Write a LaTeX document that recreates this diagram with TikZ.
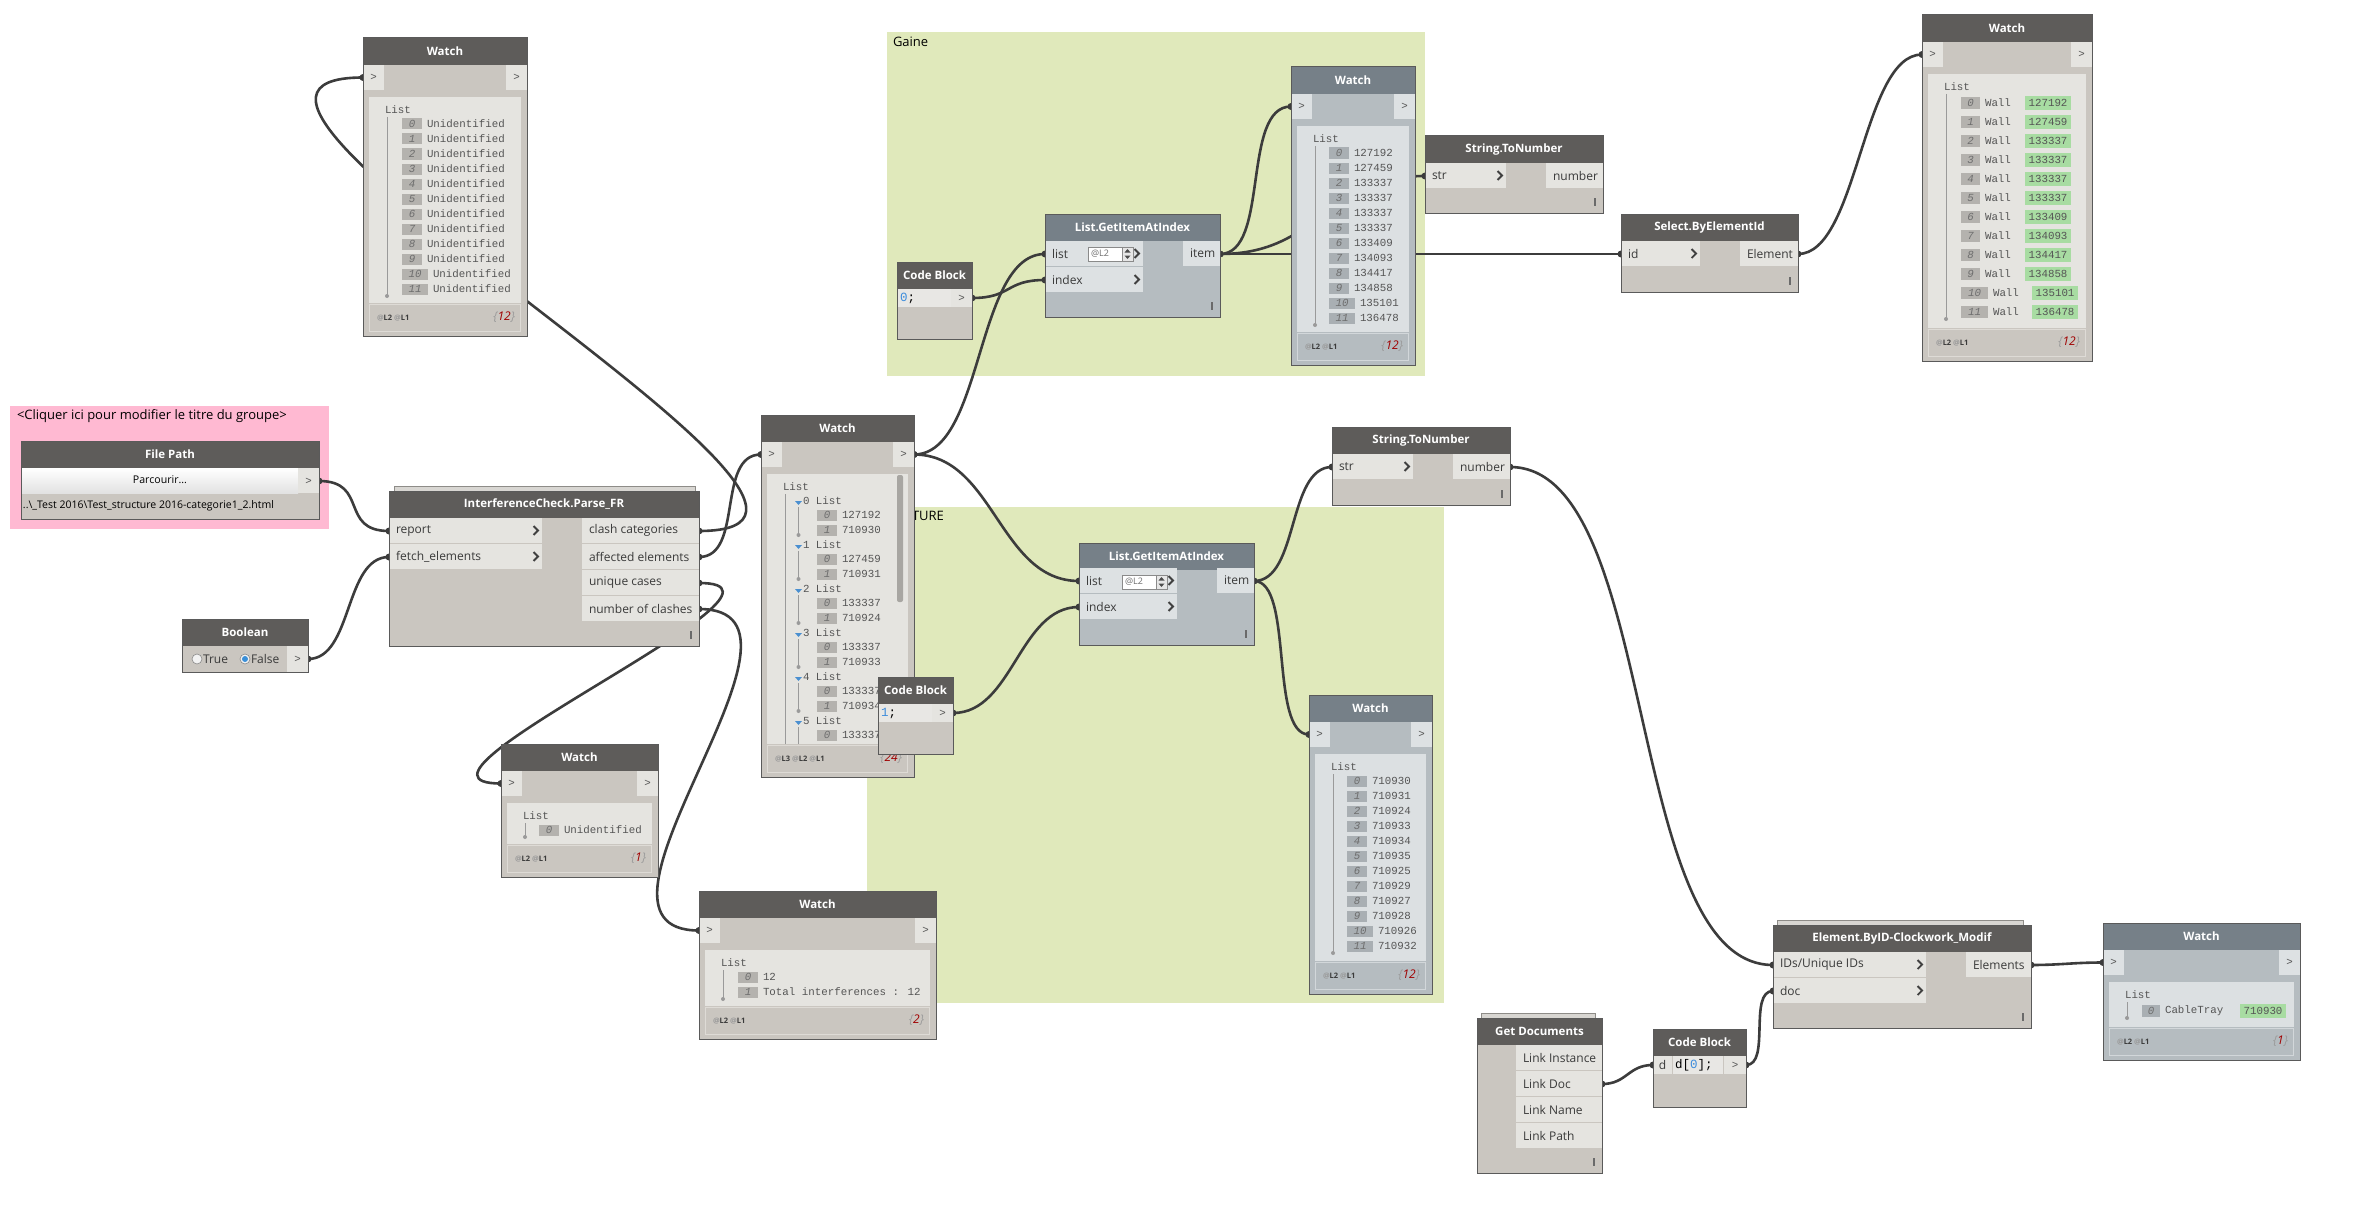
\documentclass[tikz,border=0pt]{standalone}
\usepackage{fontspec}
\setmainfont{Open Sans}
\newfontfamily\monofam{Liberation Mono}
\usetikzlibrary{calc}
\definecolor{ttlD}{HTML}{5E5C5A}
\definecolor{bodyD}{HTML}{CAC6C0}
\definecolor{portD}{HTML}{E5E4E0}
\definecolor{listD}{HTML}{E5E4E0}
\definecolor{idxD}{HTML}{B4B2AE}
\definecolor{footD}{HTML}{DEDBD6}
\definecolor{ttlB}{HTML}{768088}
\definecolor{bodyB}{HTML}{B5BCC0}
\definecolor{portB}{HTML}{DDE1E3}
\definecolor{listB}{HTML}{DCE0E2}
\definecolor{idxB}{HTML}{A9AFB3}
\definecolor{footB}{HTML}{D2D7DA}
\definecolor{edgec}{HTML}{5A5A5A}
\definecolor{wirec}{HTML}{3C3C3C}
\definecolor{grpG}{HTML}{E0E9BB}
\definecolor{grpP}{HTML}{FFB9D2}
\definecolor{txtc}{HTML}{3A3A3A}
\definecolor{monoc}{HTML}{555555}
\definecolor{idxtc}{HTML}{6E6E6E}
\definecolor{grn}{HTML}{A8DCA2}
\definecolor{cbblue}{HTML}{3C8CDC}
\definecolor{redn}{HTML}{A00000}
\definecolor{atc}{HTML}{9A9A9A}
\definecolor{linec}{HTML}{9A9A9A}
\definecolor{chevc}{HTML}{404040}
\definecolor{imc}{HTML}{6A6A6A}
\definecolor{stackc}{HTML}{D8D6D2}
\definecolor{stackd}{HTML}{8E8C88}
\definecolor{codec}{HTML}{E8E7E4}
\definecolor{btnbot}{HTML}{E2E2E2}
\definecolor{spind}{HTML}{8A8A8A}
\definecolor{spinb}{HTML}{E6E6E6}
\definecolor{tric}{HTML}{4A8FD0}
\definecolor{scrollc}{HTML}{A8A6A2}
\definecolor{radiod}{HTML}{8A8A8A}
\definecolor{radiob}{HTML}{3A8FD8}

\newcommand{\titlef}{\fontsize{11.5}{12}\selectfont\bfseries}
\newcommand{\portf}{\fontsize{12}{13}\selectfont}
\newcommand{\monof}{\monofam\fontsize{10.8}{12}\selectfont}
\newcommand{\monoi}{\monofam\itshape\fontsize{10.8}{12}\selectfont}
\newcommand{\codef}{\monofam\fontsize{12.5}{13}\selectfont}
\newcommand{\footf}{\fontsize{7.5}{8}\selectfont\bfseries}
\newcommand{\cntf}{\fontsize{12}{13}\selectfont\itshape}
\newcommand{\grpf}{\fontsize{13}{14}\selectfont}
\newcommand{\btnf}{\fontsize{10.6}{12}\selectfont}
\newcommand{\pathf}{\fontsize{10.5}{12}\selectfont}
\newcommand{\spinf}{\fontsize{9}{10}\selectfont}

\newcounter{nn}
\newcommand{\dtx}[3]{\stepcounter{nn}\node[inner sep=0pt,outer sep=0pt,#1] (t\arabic{nn}) at (#2) {#3};}
\newcommand{\lvl}[1]{\textcolor{atc}{@}\textcolor{txtc}{#1}}
\newcommand{\wcount}[1]{\textcolor{atc}{\{}\textcolor{redn}{#1}\textcolor{atc}{\}}}

% name, x, y, w, h, title, scheme
\newcommand{\dyn}[7]{%
  \node[fill=body#7, inner sep=0pt, outer sep=0pt, minimum width=#4pt, minimum height=#5pt, anchor=north west] (#1) at (#2,#3) {};
  \node[fill=ttl#7, inner sep=0pt, outer sep=0pt, minimum width=#4pt, minimum height=27pt, anchor=north west, text=white, font=\titlef] (#1-t) at (#2,#3) {#6};
}
\newcommand{\nborder}[1]{\draw[edgec, line width=1pt] (#1.north west) rectangle (#1.south east);}
\newcommand{\chev}[2]{\draw[chevc, line width=1.8pt, line join=miter] (#1-2.5,#2-4.5) -- (#1+2,#2) -- (#1-2.5,#2+4.5);}
\newcommand{\imark}[2]{\draw[imc, line width=1.2pt] (#1-8,#2-15) -- (#1-8,#2-7);}
% x, y, w, h, label, scheme
\newcommand{\portin}[6]{%
  \fill[port#6] (#1,#2) rectangle ++(#3,#4-1);
  \dtx{anchor=west,font=\portf,text=txtc}{#1+7,#2+#4/2-0.5}{#5}
  \chev{#1+#3-6}{#2+#4/2-0.5}
}
\newcommand{\portout}[6]{%
  \fill[port#6] (#1,#2) rectangle ++(#3,#4-1);
  \dtx{anchor=west,font=\portf,text=txtc}{#1+7,#2+#4/2-0.5}{#5}
}
\newcommand{\lvspin}[2]{%
  \filldraw[fill=white, draw=spind, line width=0.6pt] (#1,#2) rectangle ++(45,14);
  \dtx{anchor=west,font=\spinf,text=idxtc}{#1+3,#2+7}{@L2}
  \filldraw[fill=spinb, draw=spind, line width=0.6pt] (#1+34,#2) rectangle ++(11,14);
  \fill[black!70] (#1+36.5,#2+5.5) -- (#1+42.5,#2+5.5) -- (#1+39.5,#2+2) -- cycle;
  \fill[black!70] (#1+36.5,#2+8.5) -- (#1+42.5,#2+8.5) -- (#1+39.5,#2+12) -- cycle;
}
% name, x, y, w, h, scheme, levels, count
\newcommand{\watch}[8]{%
  \dyn{#1}{#2}{#3}{#4}{#5}{Watch}{#6}
  \fill[port#6] (#2,#3+27) rectangle (#2+21,#3+52);
  \fill[port#6] (#2+#4-21,#3+27) rectangle (#2+#4,#3+52);
  \dtx{font=\monof,text=monoc}{#2+10.5,#3+39.5}{>}
  \dtx{font=\monof,text=monoc}{#2+#4-10.5,#3+39.5}{>}
  \fill[list#6] (#2+6,#3+59) rectangle (#2+#4-6,#3+#5-33);
  \draw[foot#6, line width=1pt] (#2+6.5,#3+#5-31.5) rectangle (#2+#4-6.5,#3+#5-4.5);
  \dtx{anchor=west,font=\footf}{#2+14,#3+#5-18}{#7}
  \dtx{anchor=east,font=\cntf}{#2+#4-12,#3+#5-19}{#8}
}
% node x, node y, last item y
\newcommand{\listhead}[3]{%
  \dtx{anchor=west,font=\monof,text=monoc}{#1+22,#2+72}{List}
  \draw[linec, line width=0.8pt] (#1+24,#2+79) -- (#1+24,#3+7);
  \fill[linec] (#1+24,#3+7) circle (2pt);
}
% x, y, boxw, idx, text, scheme
\newcommand{\litem}[6]{%
  \fill[idx#6] (#1,#2-5.5) rectangle ++(#3,11);
  \dtx{font=\monoi,text=idxtc}{#1+#3/2,#2}{#4}
  \dtx{anchor=west,font=\monof,text=monoc}{#1+#3+5,#2}{#5}
}
% x, y, boxw, idx, label, greenx, value, scheme
\newcommand{\gitem}[8]{%
  \fill[idx#8] (#1,#2-6) rectangle ++(#3,12);
  \dtx{font=\monoi,text=idxtc}{#1+#3/2,#2}{#4}
  \dtx{anchor=west,font=\monof,text=monoc}{#1+#3+5,#2}{#5}
  \fill[grn] (#6,#2-7) rectangle ++(46,14);
  \dtx{font=\monof,text=monoc}{#6+23,#2}{#7}
}
\tikzset{wire/.style={draw=wirec, line width=2.6pt}}
\newcommand{\wire}[3]{%
  \draw[wire] (#1) .. controls +(#2,0) and +(-#2,0) .. (#3);
  \fill[wirec] (#1) circle (3.5pt);
  \fill[wirec] (#3) circle (3.5pt);
}

\begin{document}
\begin{tikzpicture}[x=1pt,y=-1pt]
\useasboundingbox (0,0) rectangle (2358,1212);
\fill[white] (0,0) rectangle (2358,1212);

% ---------- groups
\fill[grpP] (10,406) rectangle (329,529);
\dtx{anchor=west,font=\grpf}{17,416}{<Cliquer ici pour modifier le titre du groupe>}
\fill[grpG] (887,32) rectangle (1425,376);
\dtx{anchor=west,font=\grpf}{893,42}{Gaine}
\fill[grpG] (867,507) rectangle (1444,1003);
\dtx{anchor=west,font=\grpf}{872,516}{STRUCTURE}

% ---------- port coordinates
\coordinate (fp-out) at (319,481);
\coordinate (bo-out) at (308,659);
\coordinate (ic-report) at (389,531);
\coordinate (ic-fetch) at (389,557);
\coordinate (ic-o1) at (699,531);
\coordinate (ic-o2) at (699,557);
\coordinate (ic-o3) at (699,583);
\coordinate (ic-o4) at (699,609);
\coordinate (w1-in) at (363,77.5);
\coordinate (w2-in) at (761,454.5);
\coordinate (w2-out) at (914,454.5);
\coordinate (w3-in) at (1291,106.5);
\coordinate (w4-in) at (1922,54.5);
\coordinate (w5-in) at (1309,734.5);
\coordinate (w6-in) at (501,783.5);
\coordinate (w7-in) at (699,930.5);
\coordinate (w8-in) at (2103,962.5);
\coordinate (cb1-out) at (972,298);
\coordinate (cb2-out) at (953,713);
\coordinate (cb3-in) at (1653,1065);
\coordinate (cb3-out) at (1746,1065);
\coordinate (lg1-list) at (1045,254);
\coordinate (lg1-index) at (1045,280);
\coordinate (lg1-item) at (1220,254);
\coordinate (lg2-list) at (1079,581);
\coordinate (lg2-index) at (1079,607);
\coordinate (lg2-item) at (1254,581);
\coordinate (st1-str) at (1425,176);
\coordinate (st2-str) at (1332,467);
\coordinate (st2-num) at (1510,467);
\coordinate (se-id) at (1621,254);
\coordinate (se-el) at (1798,254);
\coordinate (gd-doc) at (1602,1084);
\coordinate (eb-ids) at (1773,965);
\coordinate (eb-doc) at (1773,991);
\coordinate (eb-el) at (2031,965);

% ---------- wires
\wire{fp-out}{50}{ic-report}
\wire{bo-out}{45}{ic-fetch}
\wire{ic-o1}{250}{w1-in}
\wire{ic-o2}{45}{w2-in}
\wire{ic-o3}{131}{w6-in}
\wire{ic-o4}{145}{w7-in}
\wire{w2-out}{70}{lg1-list}
\wire{w2-out}{80}{lg2-list}
\wire{cb1-out}{40}{lg1-index}
\wire{cb2-out}{60}{lg2-index}
\wire{lg1-item}{50}{w3-in}
\wire{lg1-item}{100}{st1-str}
\wire{lg1-item}{60}{se-id}
\wire{se-el}{60}{w4-in}
\wire{lg2-item}{45}{st2-str}
\wire{lg2-item}{40}{w5-in}
\wire{st2-num}{150}{eb-ids}
\wire{gd-doc}{25}{cb3-in}
\wire{cb3-out}{25}{eb-doc}
\wire{eb-el}{30}{w8-in}

% ---------- W1 watch
\watch{w1}{363}{38}{164}{298}{D}{\lvl{L2} \lvl{L1}}{\wcount{12}}
\listhead{363}{38}{289}
\foreach \i in {0,...,9} {\litem{402}{124+15*\i}{20}{\i}{Unidentified}{D}}
\foreach \i in {10,11} {\litem{402}{124+15*\i}{26}{\i}{Unidentified}{D}}
\nborder{w1}

% ---------- File Path
\dyn{fp}{21}{441}{298}{78}{File Path}{D}
\shade[top color=white, bottom color=btnbot] (21,468) rectangle (298,493);
\dtx{font=\btnf,text=black}{160,480}{Parcourir...}
\fill[portD] (298,468) rectangle (319,493);
\dtx{font=\monof,text=monoc}{308.5,481}{>}
\dtx{anchor=west,font=\pathf,text=black}{23,506}{..\textbackslash\_Test 2016\textbackslash Test\_structure 2016-categorie1\_2.html}
\nborder{fp}

% ---------- Boolean
\dyn{bo}{182}{619}{126}{53}{Boolean}{D}
\fill[portD] (287,646) rectangle (308,672);
\dtx{font=\monof,text=monoc}{297.5,659}{>}
\filldraw[fill=white!90!gray, draw=radiod, line width=0.6pt] (197,659) circle (5pt);
\dtx{anchor=west,font=\portf,text=txtc}{203,659}{True}
\filldraw[fill=white!90!gray, draw=radiod, line width=0.6pt] (245,659) circle (5pt);
\fill[radiob] (245,659) circle (3pt);
\dtx{anchor=west,font=\portf,text=txtc}{251,659}{False}
\nborder{bo}

% ---------- InterferenceCheck
\filldraw[fill=stackc, draw=stackd, line width=0.8pt] (394,486) rectangle (695,491);
\dyn{ic}{389}{491}{310}{155}{InterferenceCheck.Parse\_FR}{D}
\portin{389}{518}{153}{26}{report}{D}
\portin{389}{544}{153}{26}{fetch\_elements}{D}
\portout{582}{518}{117}{26}{clash categories}{D}
\portout{582}{544}{117}{26}{affected elements}{D}
\portout{582}{570}{117}{26}{unique cases}{D}
\portout{582}{596}{117}{26}{number of clashes}{D}
\imark{699}{646}
\nborder{ic}

% ---------- W2 watch
\watch{w2}{761}{415}{153}{362}{D}{\lvl{L3} \lvl{L2} \lvl{L1}}{\wcount{24}}
\begin{scope}
\clip (767,473) rectangle (908,743);
\dtx{anchor=west,font=\monof,text=monoc}{783,487}{List}
\draw[linec, line width=0.8pt] (785,494) -- (785,760);
\foreach \i/\a/\b in {0/127192/710930,1/127459/710931,2/133337/710924,3/133337/710933,4/133337/710934,5/133337/710935} {
  \fill[tric] (795,501+44*\i) -- (802,501+44*\i) -- (798.5,505+44*\i) -- cycle;
  \dtx{anchor=west,font=\monof,text=monoc}{803,501+44*\i}{\i{} List}
  \draw[linec, line width=0.8pt] (798.5,507+44*\i) -- (798.5,535+44*\i);
  \fill[linec] (798.5,535+44*\i) circle (2pt);
  \litem{817}{515+44*\i}{20}{0}{\a}{D}
  \litem{817}{530+44*\i}{20}{1}{\b}{D}
}
\end{scope}
\fill[scrollc, rounded corners=2pt] (897,475) rectangle (903,602);
\nborder{w2}

% ---------- W6, W7 watches
\watch{w6}{501}{744}{157}{133}{D}{\lvl{L2} \lvl{L1}}{\wcount{1}}
\listhead{501}{744}{830}
\litem{539}{830}{20}{0}{Unidentified}{D}
\nborder{w6}
\watch{w7}{699}{891}{237}{148}{D}{\lvl{L2} \lvl{L1}}{\wcount{2}}
\listhead{699}{891}{992}
\litem{738}{977}{20}{0}{12}{D}
\litem{738}{992}{20}{1}{Total interferences : 12}{D}
\nborder{w7}

% ---------- Code blocks
\dyn{cb1}{897}{262}{75}{77}{Code Block}{D}
\fill[codec] (897,289) rectangle (951,307);
\fill[portD] (951,289) rectangle (972,307);
\dtx{anchor=west,font=\codef,text=black}{900,298}{\textcolor{cbblue}{0};}
\dtx{font=\monof,text=monoc}{961.5,298}{>}
\nborder{cb1}

\dyn{cb2}{878}{677}{75}{77}{Code Block}{D}
\fill[codec] (878,704) rectangle (932,722);
\fill[portD] (932,704) rectangle (953,722);
\dtx{anchor=west,font=\codef,text=black}{881,713}{\textcolor{cbblue}{1};}
\dtx{font=\monof,text=monoc}{942.5,713}{>}
\nborder{cb2}

\dyn{cb3}{1653}{1029}{93}{78}{Code Block}{D}
\fill[portD] (1653,1056) rectangle (1672,1074);
\fill[codec] (1673,1056) rectangle (1723,1074);
\fill[portD] (1724,1056) rectangle (1746,1074);
\dtx{font=\portf,text=txtc}{1662.5,1065}{d}
\dtx{anchor=west,font=\codef,text=black}{1675,1065}{d[\textcolor{cbblue}{0}];}
\dtx{font=\monof,text=monoc}{1735,1065}{>}
\nborder{cb3}

% ---------- List.GetItemAtIndex
\dyn{lg1}{1045}{214}{175}{103}{List.GetItemAtIndex}{B}
\portin{1045}{241}{98}{26}{list}{B}
\lvspin{1088}{247}
\portin{1045}{267}{98}{26}{index}{B}
\portout{1183}{241}{37}{26}{item}{B}
\imark{1220}{317}
\nborder{lg1}

\dyn{lg2}{1079}{543}{175}{102}{List.GetItemAtIndex}{B}
\portin{1079}{568}{98}{26}{list}{B}
\lvspin{1122}{575}
\portin{1079}{594}{98}{26}{index}{B}
\portout{1217}{568}{37}{26}{item}{B}
\imark{1254}{645}
\nborder{lg2}

% ---------- W3 watch
\watch{w3}{1291}{67}{124}{298}{B}{\lvl{L2} \lvl{L1}}{\wcount{12}}
\listhead{1291}{67}{318}
\foreach \i/\v in {0/127192,1/127459,2/133337,3/133337,4/133337,5/133337,6/133409,7/134093,8/134417,9/134858} {\litem{1329}{153+15*\i}{20}{\i}{\v}{B}}
\foreach \i/\v in {10/135101,11/136478} {\litem{1329}{153+15*\i}{26}{\i}{\v}{B}}
\nborder{w3}

% ---------- String.ToNumber
\dyn{st1}{1425}{136}{178}{77}{String.ToNumber}{D}
\portin{1425}{163}{81}{26}{str}{D}
\portout{1546}{163}{57}{26}{number}{D}
\imark{1603}{213}
\nborder{st1}

\dyn{st2}{1332}{427}{178}{78}{String.ToNumber}{D}
\portin{1332}{454}{81}{26}{str}{D}
\portout{1453}{454}{57}{26}{number}{D}
\imark{1510}{505}
\nborder{st2}

% ---------- Select.ByElementId
\dyn{se}{1621}{214}{177}{78}{Select.ByElementId}{D}
\portin{1621}{241}{79}{26}{id}{D}
\portout{1740}{241}{58}{26}{Element}{D}
\imark{1798}{292}
\nborder{se}

% ---------- W4 watch
\watch{w4}{1922}{15}{170}{346}{D}{\lvl{L2} \lvl{L1}}{\wcount{12}}
\listhead{1922}{15}{312}
\foreach \i/\v in {0/127192,1/127459,2/133337,3/133337,4/133337,5/133337,6/133409,7/134093,8/134417,9/134858} {\gitem{1961}{103+19*\i}{19}{\i}{Wall}{2025}{\v}{D}}
\foreach \i/\v in {10/135101,11/136478} {\gitem{1961}{103+19*\i}{27}{\i}{Wall}{2032}{\v}{D}}
\nborder{w4}

% ---------- W5 watch
\watch{w5}{1309}{695}{123}{299}{B}{\lvl{L2} \lvl{L1}}{\wcount{12}}
\listhead{1309}{695}{946}
\foreach \i/\v in {0/710930,1/710931,2/710924,3/710933,4/710934,5/710935,6/710925,7/710929,8/710927,9/710928} {\litem{1347}{781+15*\i}{20}{\i}{\v}{B}}
\foreach \i/\v in {10/710926,11/710932} {\litem{1347}{781+15*\i}{26}{\i}{\v}{B}}
\nborder{w5}

% ---------- Get Documents
\filldraw[fill=stackc, draw=stackd, line width=0.8pt] (1481,1013) rectangle (1595,1018);
\dyn{gd}{1477}{1018}{125}{155}{Get Documents}{D}
\portout{1516}{1045}{86}{26}{Link Instance}{D}
\portout{1516}{1071}{86}{26}{Link Doc}{D}
\portout{1516}{1097}{86}{26}{Link Name}{D}
\portout{1516}{1123}{86}{26}{Link Path}{D}
\imark{1602}{1173}
\nborder{gd}

% ---------- Element.ByID
\filldraw[fill=stackc, draw=stackd, line width=0.8pt] (1777,920) rectangle (2023,925);
\dyn{eb}{1773}{925}{258}{103}{Element.ByID-Clockwork\_Modif}{D}
\portin{1773}{952}{153}{26}{IDs/Unique IDs}{D}
\portin{1773}{978}{153}{26}{doc}{D}
\portout{1966}{952}{65}{26}{Elements}{D}
\imark{2031}{1028}
\nborder{eb}

% ---------- W8 watch
\watch{w8}{2103}{923}{197}{137}{B}{\lvl{L2} \lvl{L1}}{\wcount{1}}
\listhead{2103}{923}{1011}
\gitem{2142}{1011}{18}{0}{CableTray}{2240}{710930}{B}
\nborder{w8}
\end{tikzpicture}
\end{document}
